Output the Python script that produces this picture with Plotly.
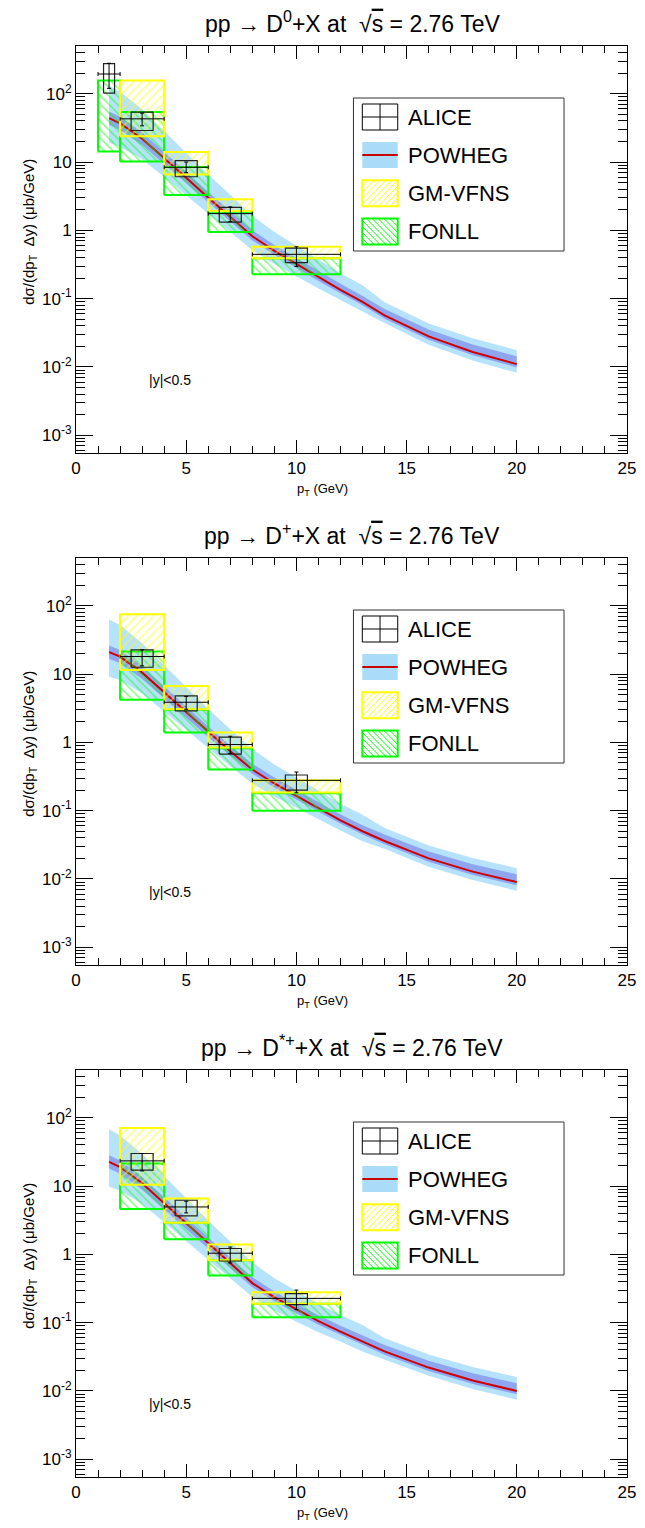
import plotly.graph_objects as go

# ---------------- data ----------------
bin_lo = [1, 2, 4, 6, 8]
bin_hi = [2, 4, 6, 8, 12]

# ALICE D0
alice_d0_x = [1.5, 3, 5, 7, 10]
alice_d0_hw = [0.25, 0.5, 0.5, 0.5, 0.5]
alice_d0_y = [195, 43, 8.4, 1.76, 0.446]
alice_d0_stat_up = [85, 9, 1.6, 0.45, 0.13]
alice_d0_stat_dn = [75, 9, 1.4, 0.42, 0.15]
alice_d0_syst_lo = [102, 29, 6.1, 1.32, 0.336]
alice_d0_syst_hi = [276, 54, 10.5, 2.17, 0.55]
gmvfns_d0_lo = [24, 6.6, 1.92, 0.39]
gmvfns_d0_hi = [157, 14, 2.86, 0.577]
fonll_d0_lo = [14.3, 10.2, 3.3, 0.95, 0.228]
fonll_d0_hi = [157, 54, 8.5, 1.88, 0.39]

# ALICE D+
alice_dp_x = [3, 5, 7, 10]
alice_dp_hw = [0.5, 0.5, 0.5, 0.5]
alice_dp_y = [18.1, 3.87, 0.93, 0.278]
alice_dp_stat_up = [4.5, 0.85, 0.3, 0.09]
alice_dp_stat_dn = [4.9, 0.82, 0.24, 0.095]
alice_dp_syst_lo = [12.6, 2.89, 0.675, 0.2]
alice_dp_syst_hi = [22.6, 4.8, 1.19, 0.333]
gmvfns_dp_lo = [11.5, 3.05, 0.84, 0.185]
gmvfns_dp_hi = [75.5, 6.7, 1.39, 0.28]
fonll_dp_lo = [4.2, 1.39, 0.40, 0.10]
fonll_dp_hi = [21.4, 3.0, 0.82, 0.18]

# ALICE D*+
alice_ds_x = [3, 5, 7, 10]
alice_ds_hw = [0.5, 0.5, 0.5, 0.5]
alice_ds_y = [23.4, 4.95, 1.04, 0.227]
alice_ds_stat_up = [6.6, 1.05, 0.24, 0.073]
alice_ds_stat_dn = [6.7, 0.9, 0.29, 0.072]
alice_ds_syst_lo = [17.1, 3.66, 0.8, 0.184]
alice_ds_syst_hi = [30, 6.2, 1.22, 0.266]
gmvfns_ds_lo = [10.5, 2.9, 0.82, 0.19]
gmvfns_ds_hi = [71, 6.6, 1.39, 0.28]
fonll_ds_lo = [4.6, 1.66, 0.49, 0.12]
fonll_ds_hi = [21.4, 2.9, 0.82, 0.19]

# POWHEG
powheg_pt = [1.5, 2, 3, 4, 5, 6, 7, 8, 9, 10, 11, 12, 13, 14, 16, 18, 20]
powheg_d0 = [44, 37, 22, 11.5, 5.9, 3.0, 1.58, 0.82, 0.5, 0.32, 0.205, 0.135, 0.09, 0.057, 0.028, 0.0166, 0.011]
powheg_dp = [21, 18, 10.5, 5.4, 2.75, 1.4, 0.74, 0.40, 0.25, 0.165, 0.108, 0.072, 0.050, 0.036, 0.020, 0.0128, 0.0090]
powheg_ds = [22.6, 19, 11, 5.6, 2.8, 1.42, 0.73, 0.38, 0.235, 0.155, 0.105, 0.074, 0.053, 0.038, 0.022, 0.0142, 0.0100]
scale_up_factor = [3.0, 2.9, 2.7, 2.5, 2.35, 2.2, 2.1, 2.0, 1.9, 1.85, 1.8, 1.75, 1.75, 1.55, 1.55, 1.58, 1.6]
scale_dn_factor = [2.3, 2.2, 2.0, 1.9, 1.8, 1.7, 1.65, 1.6, 1.55, 1.5, 1.45, 1.4, 1.4, 1.3, 1.32, 1.33, 1.34]
pdf_up_factor = [1.25, 1.25, 1.24, 1.23, 1.22, 1.22, 1.22, 1.22, 1.22, 1.22, 1.22, 1.22, 1.22, 1.24, 1.26, 1.28, 1.3]
pdf_dn_factor = [1.25, 1.25, 1.24, 1.22, 1.2, 1.18, 1.16, 1.15, 1.14, 1.13, 1.13, 1.12, 1.12, 1.12, 1.12, 1.12, 1.12]

y_tick_vals = [1e-3, 1e-2, 1e-1, 1, 10, 100]
y_tick_text = ["10<sup>-3</sup>", "10<sup>-2</sup>", "10<sup>-1</sup>", "1", "10", "10<sup>2</sup>"]
meson_labels = ["D<sup>0</sup>", "D<sup>+</sup>", "D<sup>*+</sup>"]

panels = [
    dict(ax=alice_d0_x, hw=alice_d0_hw, ay=alice_d0_y, su=alice_d0_stat_up, sd=alice_d0_stat_dn,
         sl=alice_d0_syst_lo, sh=alice_d0_syst_hi, glo=gmvfns_d0_lo, ghi=gmvfns_d0_hi,
         flo=fonll_d0_lo, fhi=fonll_d0_hi, pw=powheg_d0, gbins=[1, 2, 3, 4], fbins=[0, 1, 2, 3, 4]),
    dict(ax=alice_dp_x, hw=alice_dp_hw, ay=alice_dp_y, su=alice_dp_stat_up, sd=alice_dp_stat_dn,
         sl=alice_dp_syst_lo, sh=alice_dp_syst_hi, glo=gmvfns_dp_lo, ghi=gmvfns_dp_hi,
         flo=fonll_dp_lo, fhi=fonll_dp_hi, pw=powheg_dp, gbins=[1, 2, 3, 4], fbins=[1, 2, 3, 4]),
    dict(ax=alice_ds_x, hw=alice_ds_hw, ay=alice_ds_y, su=alice_ds_stat_up, sd=alice_ds_stat_dn,
         sl=alice_ds_syst_lo, sh=alice_ds_syst_hi, glo=gmvfns_ds_lo, ghi=gmvfns_ds_hi,
         flo=fonll_ds_lo, fhi=fonll_ds_hi, pw=powheg_ds, gbins=[1, 2, 3, 4], fbins=[1, 2, 3, 4]),
]

# ---------------- layout geometry (screenshot pixels) ----------------
PAGE_W, PAGE_H = 645, 1528
BODY = 8                      # default page margin before the plot div
W, H = PAGE_W - BODY, PAGE_H - BODY
L, R = 76, 636
TOP, BOT = 46, 1477
PANEL_STEP = 512
PANEL_H = 407
FONT = "Liberation Sans, Arial, Helvetica, sans-serif"

LIGHT_BLUE = "rgba(135,206,250,0.6)"
DARK_BLUE = "rgba(90,80,225,0.42)"
RED = "#cc0000"
YELLOW = "#ffff00"
GREEN = "#00ff00"


def pxx(px):
    return (px - L) / (R - L)


def pxy(py):
    return (BOT - py) / (BOT - TOP)


def box_path(xlo, xhi, ylo, yhi):
    xs, ys = [], []
    for a, b, c, d in zip(xlo, xhi, ylo, yhi):
        xs += [a, b, b, a, a, None]
        ys += [c, c, d, d, c, None]
    return xs, ys


fig = go.Figure()
shapes = []
annotations = []

for k, p in enumerate(panels):
    xa = "x" if k == 0 else f"x{k + 1}"
    ya = "y" if k == 0 else f"y{k + 1}"
    off = PANEL_STEP * k

    # POWHEG scale band
    up = [v * f for v, f in zip(p["pw"], scale_up_factor)]
    dn = [v / f for v, f in zip(p["pw"], scale_dn_factor)]
    fig.add_trace(go.Scatter(x=powheg_pt + powheg_pt[::-1], y=up + dn[::-1], fill="toself",
                             fillcolor=LIGHT_BLUE, line=dict(width=0), mode="lines",
                             xaxis=xa, yaxis=ya, showlegend=False, hoverinfo="skip"))
    up2 = [v * f for v, f in zip(p["pw"], pdf_up_factor)]
    dn2 = [v / f for v, f in zip(p["pw"], pdf_dn_factor)]
    fig.add_trace(go.Scatter(x=powheg_pt + powheg_pt[::-1], y=up2 + dn2[::-1], fill="toself",
                             fillcolor=DARK_BLUE, line=dict(width=0), mode="lines",
                             xaxis=xa, yaxis=ya, showlegend=False, hoverinfo="skip"))
    fig.add_trace(go.Scatter(x=powheg_pt, y=p["pw"], mode="lines", line=dict(color=RED, width=2),
                             xaxis=xa, yaxis=ya, showlegend=False))

    # FONLL boxes
    fx, fy = box_path([bin_lo[i] for i in p["fbins"]], [bin_hi[i] for i in p["fbins"]], p["flo"], p["fhi"])
    fig.add_trace(go.Scatter(x=fx, y=fy, mode="lines", fill="toself", fillcolor="rgba(0,0,0,0)",
                             fillpattern=dict(shape="\\", fgcolor=GREEN, bgcolor="rgba(0,0,0,0)",
                                              size=6, solidity=0.25),
                             line=dict(color=GREEN, width=2), xaxis=xa, yaxis=ya, showlegend=False))
    # GM-VFNS boxes
    gx, gy = box_path([bin_lo[i] for i in p["gbins"]], [bin_hi[i] for i in p["gbins"]], p["glo"], p["ghi"])
    fig.add_trace(go.Scatter(x=gx, y=gy, mode="lines", fill="toself", fillcolor="rgba(0,0,0,0)",
                             fillpattern=dict(shape="/", fgcolor=YELLOW, bgcolor="rgba(0,0,0,0)",
                                              size=6, solidity=0.25),
                             line=dict(color=YELLOW, width=2), xaxis=xa, yaxis=ya, showlegend=False))
    # ALICE systematic boxes
    axlo = [x - h for x, h in zip(p["ax"], p["hw"])]
    axhi = [x + h for x, h in zip(p["ax"], p["hw"])]
    sx, sy = box_path(axlo, axhi, p["sl"], p["sh"])
    fig.add_trace(go.Scatter(x=sx, y=sy, mode="lines", line=dict(color="#222222", width=1.2),
                             xaxis=xa, yaxis=ya, showlegend=False))
    # ALICE points with stat errors and bin widths
    ex = [(bin_hi[i] - bin_lo[i]) / 2 for i in range(len(bin_lo))][-len(p["ax"]):]
    fig.add_trace(go.Scatter(x=p["ax"], y=p["ay"], mode="markers",
                             marker=dict(size=1, color="black"),
                             error_x=dict(type="data", array=ex, color="black", thickness=1, width=2),
                             error_y=dict(type="data", array=p["su"], arrayminus=p["sd"],
                                          color="black", thickness=1, width=2),
                             xaxis=xa, yaxis=ya, showlegend=False))

    # axes
    dom = [pxy(TOP + off + PANEL_H), pxy(TOP + off)]
    axis_common = dict(showline=True, linecolor="black", linewidth=1, mirror="ticks",
                       ticks="inside", tickcolor="black", tickwidth=1, showgrid=False,
                       zeroline=False, ticklabeloverflow="allow",
                       tickfont=dict(family=FONT, size=17, color="black"))
    fig.layout[("xaxis" if k == 0 else f"xaxis{k + 1}")] = dict(
        domain=[0, 1], range=[0, 25], anchor=ya, dtick=5, tick0=0, ticklen=13,
        minor=dict(ticks="inside", ticklen=7, dtick=1, tickcolor="black", showgrid=False),
        **axis_common)
    fig.layout[("yaxis" if k == 0 else f"yaxis{k + 1}")] = dict(
        domain=dom, type="log", range=[-3.26, 2.70], anchor=xa,
        tickmode="array", tickvals=y_tick_vals, ticktext=y_tick_text, ticklen=17,
        minor=dict(ticks="inside", ticklen=9, tickcolor="black", showgrid=False,
                   tickmode="array",
                   tickvals=[m * 10 ** e for e in range(-4, 3) for m in range(2, 10)]),
        **axis_common)

    # titles
    annotations.append(dict(
        x=pxx(357), y=pxy(22 + off), xref="paper", yref="paper", showarrow=False,
        text=f"pp \u2192 {meson_labels[k]}+X at  \u221a<span style='text-decoration:overline'>s</span> = 2.76 TeV",
        font=dict(family=FONT, size=23, color="black"), xanchor="center", yanchor="middle"))
    annotations.append(dict(
        x=pxx(28), y=pxy(232 + off), xref="paper", yref="paper", showarrow=False, textangle=-90,
        text="d\u03c3/(dp<sub>T</sub>  \u0394y) (\u03bcb/GeV)",
        font=dict(family=FONT, size=15, color="black"), xanchor="center", yanchor="middle"))
    annotations.append(dict(
        x=pxx(327), y=pxy(489 + off), xref="paper", yref="paper", showarrow=False,
        text="p<sub>T</sub> (GeV)", font=dict(family=FONT, size=13, color="black"),
        xanchor="center", yanchor="middle"))
    annotations.append(dict(
        x=pxx(148), y=pxy(380 + off), xref="paper", yref="paper", showarrow=False,
        text="|y|<0.5", font=dict(family=FONT, size=14, color="black"),
        xanchor="left", yanchor="middle"))

    # legend
    lx0, lx1, ly0, ly1 = 358, 572, 98 + off, 251 + off
    shapes.append(dict(type="rect", xref="paper", yref="paper", x0=pxx(lx0), x1=pxx(lx1),
                       y0=pxy(ly1), y1=pxy(ly0), line=dict(color="#333333", width=1),
                       fillcolor="white", layer="above"))
    sx0, sx1 = 367, 403
    rows = [117, 155, 193.3, 231.5]
    labels = ["ALICE", "POWHEG", "GM-VFNS", "FONLL"]
    for r, lab in zip(rows, labels):
        cy = r + off
        y0, y1 = cy - 13, cy + 13
        if lab == "ALICE":
            shapes.append(dict(type="rect", xref="paper", yref="paper", x0=pxx(sx0), x1=pxx(sx1),
                               y0=pxy(y1), y1=pxy(y0), line=dict(color="black", width=1), layer="above"))
            shapes.append(dict(type="line", xref="paper", yref="paper", x0=pxx(sx0), x1=pxx(sx1),
                               y0=pxy(cy), y1=pxy(cy), line=dict(color="black", width=1), layer="above"))
            shapes.append(dict(type="line", xref="paper", yref="paper", x0=pxx((sx0 + sx1) / 2),
                               x1=pxx((sx0 + sx1) / 2), y0=pxy(y1), y1=pxy(y0),
                               line=dict(color="black", width=1), layer="above"))
        elif lab == "POWHEG":
            shapes.append(dict(type="rect", xref="paper", yref="paper", x0=pxx(sx0), x1=pxx(sx1),
                               y0=pxy(y1), y1=pxy(y0), line=dict(width=0),
                               fillcolor="rgb(170,220,248)", layer="above"))
            shapes.append(dict(type="line", xref="paper", yref="paper", x0=pxx(sx0), x1=pxx(sx1),
                               y0=pxy(cy), y1=pxy(cy), line=dict(color=RED, width=2), layer="above"))
        else:
            col = YELLOW if lab == "GM-VFNS" else GREEN
            step = 6
            wdt, hgt = sx1 - sx0, y1 - y0
            c = -hgt
            while c < wdt:
                u0, u1 = max(0, c), min(wdt, c + hgt)
                if u1 > u0:
                    if lab == "GM-VFNS":
                        ya0, ya1 = y1 - (u0 - c), y1 - (u1 - c)
                    else:
                        ya0, ya1 = y0 + (u0 - c), y0 + (u1 - c)
                    shapes.append(dict(type="line", xref="paper", yref="paper",
                                       x0=pxx(sx0 + u0), x1=pxx(sx0 + u1),
                                       y0=pxy(ya0), y1=pxy(ya1),
                                       line=dict(color=col, width=1), layer="above"))
                c += step
            shapes.append(dict(type="rect", xref="paper", yref="paper", x0=pxx(sx0), x1=pxx(sx1),
                               y0=pxy(y1), y1=pxy(y0), line=dict(color=col, width=2), layer="above"))
        annotations.append(dict(x=pxx(411), y=pxy(cy), xref="paper", yref="paper", showarrow=False,
                                text=lab, font=dict(family=FONT, size=22, color="black"),
                                xanchor="left", yanchor="middle"))

fig.update_layout(width=W, height=H,
                  margin=dict(l=L - BODY, r=PAGE_W - R, t=TOP - BODY, b=PAGE_H - BOT),
                  paper_bgcolor="white", plot_bgcolor="white", showlegend=False,
                  shapes=shapes, annotations=annotations)
fig.write_html("out.html")
